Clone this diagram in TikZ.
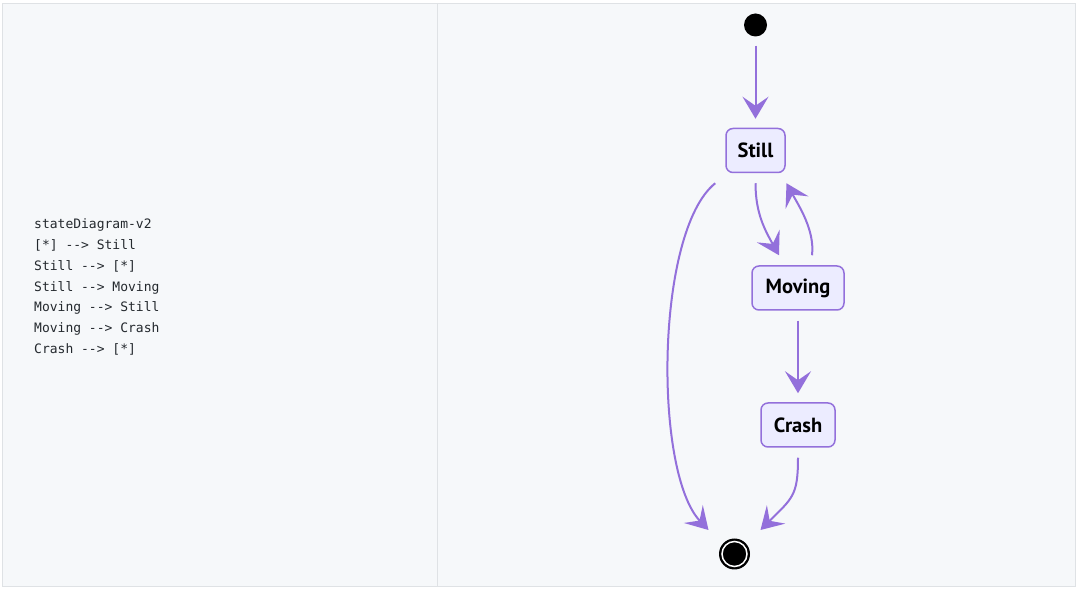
\documentclass[tikz,border=0pt]{standalone}
\usepackage{fontspec}
\setmainfont{PT Sans}
\newfontfamily\codefont[Ligatures=TeXOff]{DejaVu Sans Mono}
\usetikzlibrary{arrows.meta,calc}
\definecolor{panel}{HTML}{F6F8FA}
\definecolor{rulec}{HTML}{DFE2E5}
\definecolor{mline}{HTML}{9370DB}
\definecolor{mfill}{HTML}{ECECFF}
\definecolor{codec}{HTML}{24292E}
\begin{document}
\begin{tikzpicture}[x=1pt,y=-1pt,
 state/.style={draw=mline, fill=mfill, line width=1.5pt, rounded corners=7pt, minimum height=44pt, inner sep=0pt, font=\fontsize{20.5}{20.5}\selectfont\bfseries, text=black},
 edge/.style={draw=mline, line width=2pt, -{Stealth[length=22pt,width=26pt,inset=9pt]}},
 codeline/.style={anchor=base west, inner sep=0pt, font=\codefont\fontsize{13}{13}\selectfont, text=codec}]
\useasboundingbox (0,0) rectangle (1080,593);
\fill[white] (0,0) rectangle (1080,593);
\filldraw[fill=panel, draw=rulec, line width=1pt] (2.5,3.5) rectangle (1075,587);
\draw[rulec, line width=1pt] (437.5,3.5) -- (437.5,587);

\node[codeline] (c1) at (34,229) {stateDiagram-v2};
\node[codeline] (c2) at (34,249.7) {[*] --> Still};
\node[codeline] (c3) at (34,270.4) {Still --> [*]};
\node[codeline] (c4) at (34,291.1) {Still --> Moving};
\node[codeline] (c5) at (34,311.8) {Moving --> Still};
\node[codeline] (c6) at (34,332.5) {Moving --> Crash};
\node[codeline] (c7) at (34,353.2) {Crash --> [*]};

\node[state, minimum width=59pt] (still) at (755.5,150.5) {Still};
\node[state, minimum width=92pt] (moving) at (798,288) {Moving};
\node[state, minimum width=74pt] (crash) at (798,425) {Crash};
\node[circle, fill=black, minimum size=23pt, inner sep=0pt] (start) at (755.5,25) {};
\node[circle, fill=black, minimum size=31pt, inner sep=0pt] (endc) at (734.5,554) {};
\node[circle, draw=white, line width=1.5pt, minimum size=25pt, inner sep=0pt] (endin) at (endc) {};

\draw[edge] ($(start.south)+(0,9)$) -- ($(still.north)+(0,-9)$);
\draw[edge] ($(still.south)+(0,10)$) .. controls +(0,30) and +(-14,-25) .. ($(moving.north)+(-19,-10)$);
\draw[edge] ($(moving.north)+(14,-10)$) .. controls +(3,-25) and +(12,22) .. ($(still.south)+(31,10)$);
\draw[edge] ($(moving.south)+(0,10)$) -- ($(crash.north)+(0,-9)$);
\draw[edge] ($(crash.south)+(0,10)$) .. controls +(0,38) and +(32,-32) .. ($(endc)+(26,-24)$);
\draw[edge] ($(still.south west)+(-10,10)$) .. controls +(-60,48) and +(-55,-58) .. ($(endc)+(-26,-24)$);
\end{tikzpicture}
\end{document}
